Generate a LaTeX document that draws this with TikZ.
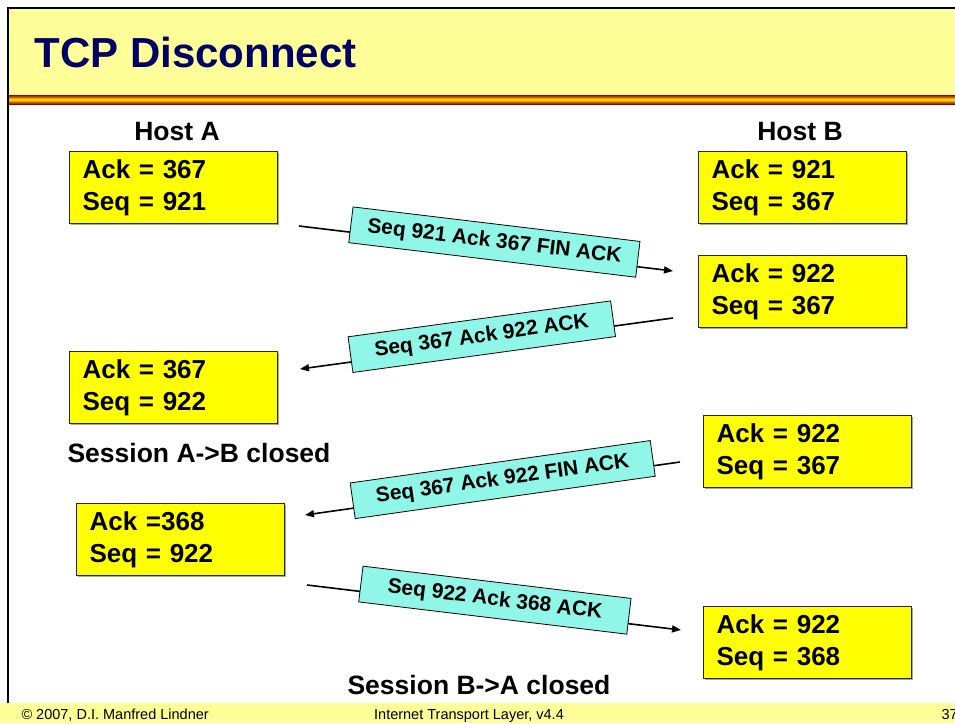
\documentclass[tikz,border=0pt]{standalone}
\usepackage{fontspec}
\setmainfont{Liberation Sans}
\usetikzlibrary{arrows.meta,positioning,shadows}
\definecolor{titlebg}{HTML}{FFFF99}
\definecolor{titleblue}{HTML}{000066}
\definecolor{boxyellow}{HTML}{FFFF00}
\definecolor{msgcyan}{RGB}{144,246,232}
\tikzset{
    every node/.style={font=\bfseries\fontsize{26}{32}\selectfont},
    state box/.style={draw=black!85,line width=1.2pt,fill=boxyellow,align=left,
        text width=182pt,inner xsep=13pt,inner ysep=4pt,minimum height=72pt,anchor=north west,
        drop shadow={shadow xshift=1.5pt,shadow yshift=-1.5pt,fill=black!35,opacity=1}},
    msg/.style={draw,line width=0.8pt,fill=msgcyan,font=\bfseries\fontsize{21}{24}\selectfont,
        inner xsep=12pt,minimum height=36pt,sloped,above=-11pt},
    msg line/.style={line width=1.6pt,-{Triangle[length=9pt,width=7pt]}},
    side label/.style={font=\bfseries\fontsize{26.5}{30}\selectfont},
    foot/.style={font=\mdseries\fontsize{14.5}{16}\selectfont,anchor=base west}
}
\begin{document}
\begin{tikzpicture}[x=1pt,y=-1pt]
    \useasboundingbox (0,0) rectangle (955,723);

    % frame and title band
    \fill[titlebg] (9,9) rectangle (955,95);
    \shade[top color=red!60!black,bottom color=red!60!black,middle color=yellow!85!orange] (9,95) rectangle (955,104);
    \fill[titlebg] (0,703) rectangle (955,723);
    \draw[line width=2pt] (8,703) -- (8,8) -- (955,8);
    \node[font=\bfseries\fontsize{42}{50}\selectfont,text=titleblue,anchor=base west] (title) at (31,67) {TCP Disconnect};

    % hosts
    \node[side label] (hostA) at (177,132) {Host A};
    \node[side label] (hostB) at (800,132) {Host B};

    \node[state box] (a1) at (69,151) {Ack = 367\\Seq = 921};
    \node[state box] (b1) at (698,151) {Ack = 921\\Seq = 367};
    \node[state box] (b2) at (698,255) {Ack = 922\\Seq = 367};
    \node[state box] (a2) at (69,351) {Ack = 367\\Seq = 922};
    \node[side label] (closedA) at (199,453) {Session A->B closed};
    \node[state box] (b3) at (703,415) {Ack = 922\\Seq = 367};
    \node[state box] (a3) at (76,503) {Ack =368\\Seq = 922};
    \node[state box] (b4) at (703,606) {Ack = 922\\Seq = 368};
    \node[side label] (closedB) at (479,685) {Session B->A closed};

    % segments
    \coordinate (s1) at (299,226);
    \coordinate (e1) at (673,271);
    \coordinate (s2) at (673,318);
    \coordinate (e2) at (300,369);
    \coordinate (s3) at (680,462);
    \coordinate (e3) at (305,515);
    \coordinate (s4) at (307,585);
    \coordinate (e4) at (681,630);

    \draw[msg line] (s1) -- (e1) node[msg,pos=.52,minimum width=289pt] (m1) {Seq 921 Ack 367 FIN ACK};
    \draw[msg line] (s2) -- (e2) node[msg,pos=.51,minimum width=265pt] (m2) {Seq 367 Ack 922 ACK};
    \draw[msg line] (s3) -- (e3) node[msg,pos=.47,minimum width=303pt] (m3) {Seq 367 Ack 922 FIN ACK};
    \draw[msg line] (s4) -- (e4) node[msg,pos=.50,minimum width=270pt] (m4) {Seq 922 Ack 368 ACK};

    % footer
    \node[foot] (copy) at (18,719) {© 2007, D.I. Manfred Lindner};
    \node[foot,anchor=base] (course) at (469,719) {Internet Transport Layer, v4.4};
    \node[foot] (page) at (938,719) {37};
\end{tikzpicture}
\end{document}
